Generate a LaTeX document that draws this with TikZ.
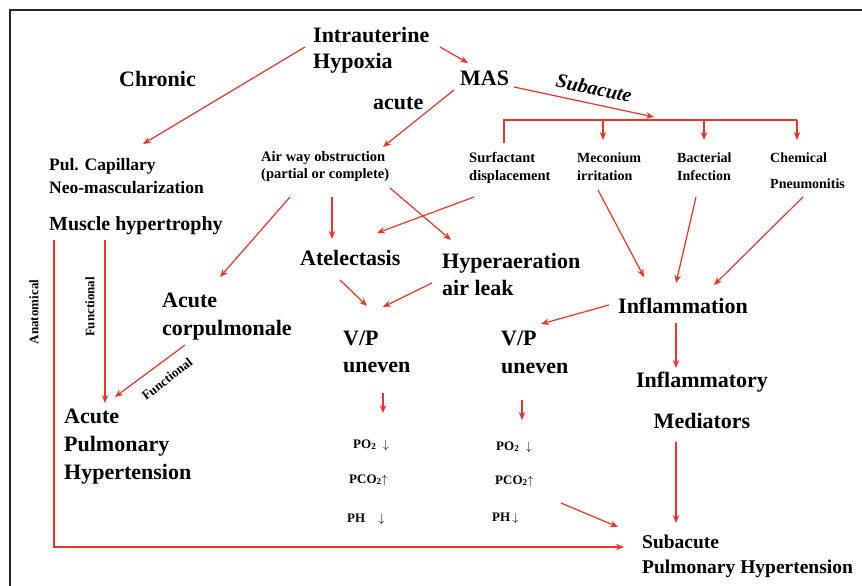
\documentclass[tikz,border=0pt]{standalone}
\usepackage{fontspec}
\setmainfont{Liberation Serif}
\usetikzlibrary{arrows.meta,calc}
\definecolor{ar}{RGB}{238,52,40}
\newcommand\mlines[1]{\vtop{\halign{##\hfil\cr#1\crcr}}}
\newcommand\mlinesc[1]{\vtop{\halign{\hfil##\hfil\cr#1\crcr}}}
\begin{document}
\begin{tikzpicture}[x=1pt,y=-1pt,
  lbl/.style={inner sep=0pt, anchor=base west},
  fs/.style 2 args={font=\fontsize{#1}{#2}\selectfont\bfseries},
  arr/.style={draw=ar, line width=1.2pt, -{Stealth[length=8pt,width=6.5pt]}},
  rl/.style={draw=ar, line width=1.2pt},
  rot/.style={inner sep=0pt, font=\fontsize{13}{15}\selectfont\bfseries}]
\useasboundingbox (0,0) rectangle (862,586);
\draw[line width=2pt, black!85] (10,586) -- (10,10) -- (862,10);

% nodes
\node[lbl, fs={22}{25}] (ih) at (313,43) {\mlines{Intrauterine\cr Hypoxia}};
\node[lbl, fs={22}{25}] (chr) at (119,87) {Chronic};
\node[lbl, fs={22}{25}] (mas) at (460,85) {MAS};
\node[lbl, fs={22}{25}] (acu) at (373,110) {acute};
\node[inner sep=0pt, rotate=-12, font=\fontsize{20}{22}\selectfont\bfseries\itshape] (sub) at (594,88) {Subacute};
\node[lbl, fs={14.5}{17}] (aw) at (261,161) {\mlines{Air way obstruction\cr (partial or complete)}};
\node[lbl, fs={14.5}{18}] (sd) at (469,162) {\mlines{Surfactant\cr displacement}};
\node[lbl, fs={14}{18}] (mi) at (577,162) {\mlines{Meconium\cr irritation}};
\node[lbl, fs={14}{18}] (bi) at (677,162) {\mlines{Bacterial\cr Infection}};
\node[lbl, fs={14}{26}] (cp) at (770,162) {\mlines{Chemical\cr Pneumonitis}};
\node[lbl, fs={17.5}{23}] (pc) at (49,170) {\mlines{Pul. Capillary\cr Neo-mascularization}};
\node[lbl, fs={20}{22}] (mh) at (49,230) {Muscle hypertrophy};
\node[lbl, fs={22}{25}] (at) at (300,265) {Atelectasis};
\node[lbl, fs={22}{27}] (hy) at (442,268) {\mlines{Hyperaeration\cr air leak}};
\node[lbl, fs={22}{28}] (acp) at (162,307) {\mlines{Acute\cr corpulmonale}};
\node[lbl, fs={22}{27}] (vp1) at (343,345) {\mlines{V/P\cr uneven}};
\node[lbl, fs={22}{28}] (vp2) at (501,345) {\mlines{V/P\cr uneven}};
\node[lbl, fs={22}{25}] (inf) at (618,313) {Inflammation};
\node[inner sep=0pt, anchor=base, fs={22}{41}] (im) at (702,387) {\mlinesc{Inflammatory\cr Mediators}};
\node[lbl, fs={22}{28}] (aph) at (64,423) {\mlines{Acute\cr Pulmonary\cr Hypertension}};
\node[lbl, fs={19.5}{25}] (sph) at (642,548) {\mlines{Subacute\cr Pulmonary Hypertension}};
\node[lbl, fs={13}{15}] (po1) at (353,448) {PO\textsubscript{2}\enspace$\downarrow$};
\node[lbl, fs={13}{15}] (pco1) at (349,483) {PCO\textsubscript{2}$\uparrow$};
\node[lbl, fs={13}{15}] (ph1) at (347,522) {PH\quad$\downarrow$};
\node[lbl, fs={13}{15}] (po2) at (496,450) {PO\textsubscript{2}\enspace$\downarrow$};
\node[lbl, fs={13}{15}] (pco2) at (495,484) {PCO\textsubscript{2}$\uparrow$};
\node[lbl, fs={13}{15}] (ph2) at (492,521) {PH\,$\downarrow$};
\node[rot, rotate=90] (anat) at (34,312) {Anatomical};
\node[rot, rotate=90] (fun1) at (90,307) {Functional};
\node[rot, rotate=38] (fun2) at (167,379) {Functional};

% connectors
\draw[arr] ($(ih.base west)+(-8,4)$) -- ($(pc.base west)+(94,-26)$);
\draw[arr] ($(ih.base west)+(127,4)$) -- ($(mas.base west)+(8,-22)$);
\draw[arr] ($(mas.base west)+(-6,5)$) -- ($(aw.base west)+(122,-14)$);
\draw[arr] ($(mas.base west)+(54,2)$) -- ($(mi.base west)+(77,-45)$);
\draw[rl] ($(sd.base west)+(35,-19)$) |- ($(cp.base west)+(27,-42)$);
\draw[arr] ($(mi.base west)+(26,-42)$) -- ($(mi.base west)+(26,-22)$);
\draw[arr] ($(bi.base west)+(27,-42)$) -- ($(bi.base west)+(27,-22)$);
\draw[arr] ($(cp.base west)+(27,-42)$) -- ($(cp.base west)+(27,-22)$);
\draw[arr] ($(aw.base west)+(29,36)$) -- ($(acp.base west)+(58,-30)$);
\draw[arr] ($(aw.base west)+(71,36)$) -- ($(at.base west)+(32,-26)$);
\draw[arr] ($(aw.base west)+(129,27)$) -- ($(hy.base west)+(9,-28)$);
\draw[arr] ($(sd.base west)+(5,35)$) -- ($(at.base west)+(77,-32)$);
\draw[arr] ($(at.base west)+(40,15)$) -- ($(vp1.base west)+(24,-39)$);
\draw[arr] ($(hy.base west)+(-10,15)$) -- ($(vp1.base west)+(40,-38)$);
\draw[arr] ($(vp1.base west)+(40,48)$) -- ($(po1.base west)+(30,-35)$);
\draw[arr] ($(vp2.base west)+(21,55)$) -- ($(po2.base west)+(26,-30)$);
\draw[arr] ($(inf.base west)+(-9,-8)$) -- ($(vp2.base west)+(40,-21)$);
\draw[arr] ($(inf.base west)+(58,10)$) -- ($(im.base)+(-26,-19)$);
\draw[arr] ($(im.base)+(-26,55)$) -- ($(sph.base west)+(34,-25)$);
\draw[arr] ($(mi.base west)+(21,28)$) -- ($(inf.base west)+(26,-36)$);
\draw[arr] ($(bi.base west)+(19,35)$) -- ($(inf.base west)+(58,-30)$);
\draw[arr] ($(cp.base west)+(33,35)$) -- ($(inf.base west)+(96,-28)$);
\draw[arr] ($(ph2.base west)+(69,-18)$) -- ($(sph.base west)+(-24,-21)$);
\draw[arr] ($(mh.base west)+(5,10)$) |- ($(sph.base west)+(-18,-1)$);
\draw[arr] ($(mh.base west)+(56,10)$) -- ($(aph.base west)+(41,-20)$);
\draw[arr] ($(acp.base west)+(23,38)$) -- ($(aph.base west)+(51,-26)$);
\end{tikzpicture}
\end{document}
